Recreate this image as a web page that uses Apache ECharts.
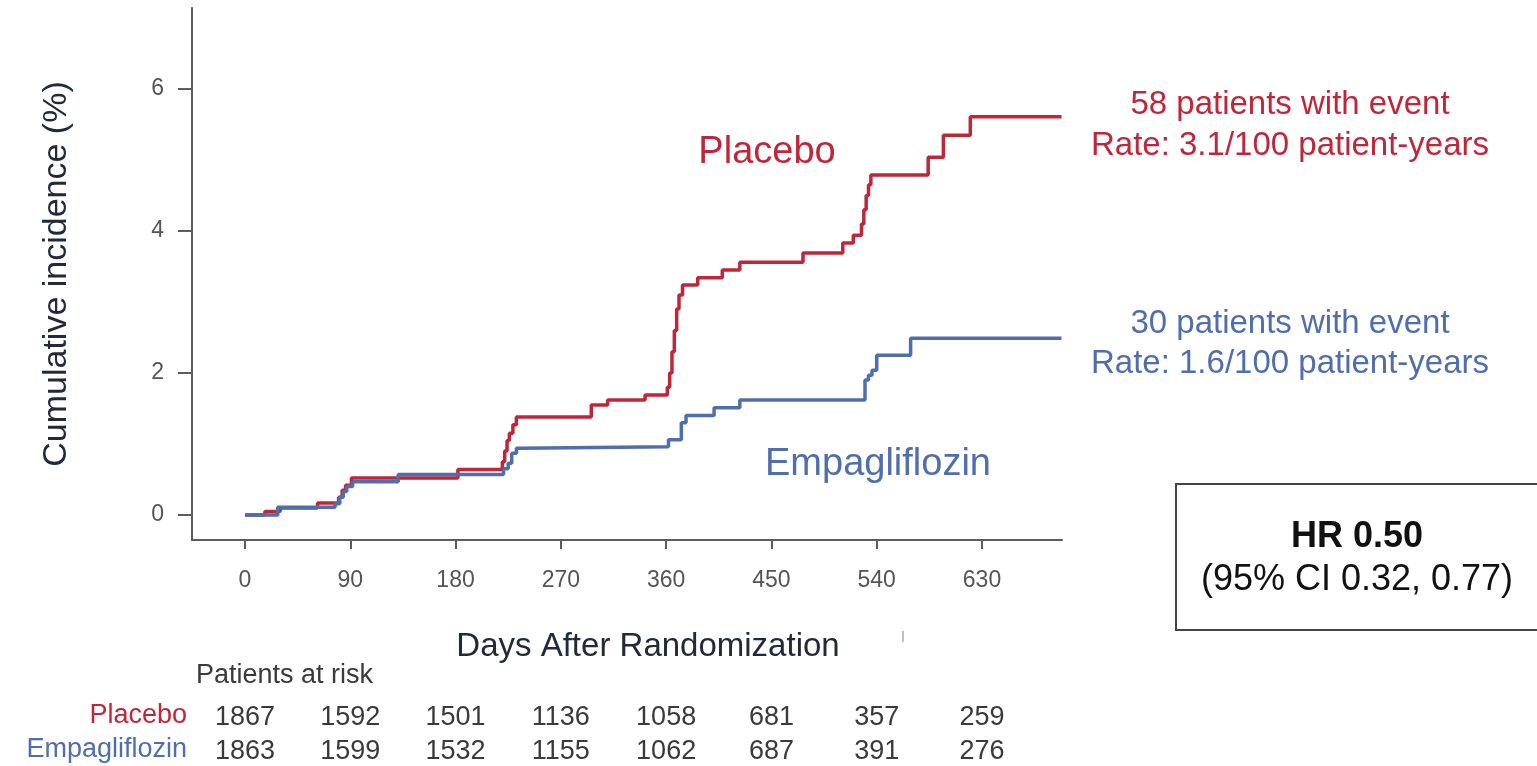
<!DOCTYPE html>
<html><head><meta charset="utf-8">
<script src="https://cdn.jsdelivr.net/npm/echarts@6/dist/echarts.min.js"></script>
<style>html,body{margin:0;padding:0;background:#fff}#c{width:1537px;height:766px}</style>
</head><body><div id="c"></div>
<script>
// ---- data ----
const placeboDays = [0, 17, 30, 62, 80, 83, 86, 91, 182, 220, 222, 224, 226, 229, 232, 296, 310, 342, 361, 363, 365, 367, 369, 371, 374, 387, 408, 423, 477, 511, 520, 527, 529, 531, 533, 535, 584, 597, 620, 698];
const placeboPct  = [0, 0.05, 0.10, 0.17, 0.25, 0.35, 0.42, 0.52, 0.64, 0.75, 0.90, 1.05, 1.15, 1.27, 1.38, 1.55, 1.62, 1.69, 1.80, 2.00, 2.30, 2.60, 2.90, 3.10, 3.24, 3.34, 3.45, 3.56, 3.69, 3.83, 3.94, 4.10, 4.30, 4.50, 4.65, 4.79, 5.04, 5.35, 5.61, 5.61];
const empaDays = [0, 28, 77, 81, 84, 87, 92, 131, 221, 225, 228, 232, 235, 362, 373, 377, 401, 423, 530, 533, 536, 540, 569, 698];
const empaPct  = [0, 0.11, 0.16, 0.25, 0.33, 0.40, 0.47, 0.57, 0.65, 0.73, 0.87, 0.94, 0.96, 1.06, 1.30, 1.40, 1.51, 1.62, 1.90, 1.97, 2.04, 2.25, 2.49, 2.49];
const xTicks = [0, 90, 180, 270, 360, 450, 540, 630];
const yTicks = [0, 2, 4, 6];
const riskPlacebo = [1867, 1592, 1501, 1136, 1058, 681, 357, 259];
const riskEmpa    = [1863, 1599, 1532, 1155, 1062, 687, 391, 276];
const groupNames = ['Placebo', 'Empagliflozin'];
const eventText = ['58 patients with event', '30 patients with event'];
const rateText  = ['Rate: 3.1/100 patient-years', 'Rate: 1.6/100 patient-years'];
const hrText = ['HR 0.50', '(95% CI 0.32, 0.77)'];

const RED = '#c0263a', BLUE = '#4f6eae', AX = '#5c5c5c';
const FONT = '"Liberation Sans", Arial, sans-serif';
const NARROW = '"Liberation Sans Narrow", "Arial Narrow", "Liberation Sans", sans-serif';

const zip = (a, b) => a.map((d, i) => [d, b[i]]);
const riskAxis = (arr, offset) => ({
  type: 'value', min: -45.3, max: 698.4, position: 'bottom', offset: offset, gridIndex: 0,
  axisLine: {show: false}, axisTick: {show: false}, splitLine: {show: false},
  axisLabel: {customValues: xTicks, margin: 0, fontSize: 27, fontFamily: NARROW, color: '#3a3a3a',
    formatter: v => String(arr[xTicks.indexOf(v)])}
});

const chart = echarts.init(document.getElementById('c'), null, {renderer: 'canvas'});
chart.setOption({
  animation: false,
  backgroundColor: '#fff',
  grid: {left: 192, right: 475, top: 8, bottom: 226, containLabel: false},
  xAxis: [{
    type: 'value', min: -45.3, max: 698.4,
    name: 'Days After Randomization', nameLocation: 'middle', nameGap: 90,
    nameTextStyle: {fontSize: 33, fontFamily: FONT, color: '#222a3a', padding: [0, 0, 0, 42]},
    axisLine: {show: true, onZero: false, lineStyle: {color: AX, width: 2}},
    axisTick: {show: true, customValues: xTicks, length: 9, lineStyle: {color: AX, width: 2}},
    axisLabel: {customValues: xTicks, margin: 29, fontSize: 23, fontFamily: FONT, color: '#555'},
    splitLine: {show: false}
  }, riskAxis(riskPlacebo, 164), riskAxis(riskEmpa, 198)],
  yAxis: {
    type: 'value', min: -0.352, max: 7.141,
    name: 'Cumulative incidence (%)', nameLocation: 'middle', nameGap: 118, nameRotate: 90,
    nameTextStyle: {fontSize: 34, fontFamily: FONT, color: '#222a3a'},
    axisLine: {show: true, onZero: false, lineStyle: {color: AX, width: 2}},
    axisTick: {show: true, customValues: yTicks, length: 14, lineStyle: {color: AX, width: 2}},
    axisLabel: {customValues: yTicks, margin: 28, fontSize: 23, fontFamily: FONT, color: '#555'},
    splitLine: {show: false}
  },
  series: [
    {name: groupNames[0], type: 'line', step: 'end', showSymbol: false, data: zip(placeboDays, placeboPct),
     lineStyle: {color: RED, width: 3.5}, itemStyle: {color: RED}, z: 2},
    {name: groupNames[1], type: 'line', step: 'end', showSymbol: false, data: zip(empaDays, empaPct),
     lineStyle: {color: BLUE, width: 3.5}, itemStyle: {color: BLUE}, z: 3}
  ],
  graphic: [
    {type: 'text', x: 767, y: 153, style: {text: groupNames[0], fill: RED, font: '38px ' + FONT, align: 'center', verticalAlign: 'middle'}},
    {type: 'text', x: 878, y: 465, style: {text: groupNames[1], fill: BLUE, font: '38px ' + FONT, align: 'center', verticalAlign: 'middle'}},
    {type: 'text', x: 1290, y: 105, style: {text: eventText[0], fill: RED, font: '33px ' + FONT, align: 'center', verticalAlign: 'middle'}},
    {type: 'text', x: 1290, y: 146, style: {text: rateText[0], fill: RED, font: '33px ' + FONT, align: 'center', verticalAlign: 'middle'}},
    {type: 'text', x: 1290, y: 324, style: {text: eventText[1], fill: BLUE, font: '33px ' + FONT, align: 'center', verticalAlign: 'middle'}},
    {type: 'text', x: 1290, y: 364, style: {text: rateText[1], fill: BLUE, font: '33px ' + FONT, align: 'center', verticalAlign: 'middle'}},
    {type: 'rect', shape: {x: 1176, y: 484, width: 420, height: 146}, style: {fill: '#fff', stroke: '#444', lineWidth: 2}},
    {type: 'text', x: 1357, y: 537, style: {text: hrText[0], fill: '#111', font: 'bold 36px ' + FONT, align: 'center', verticalAlign: 'middle'}},
    {type: 'text', x: 1357, y: 580, style: {text: hrText[1], fill: '#111', font: '36px ' + FONT, align: 'center', verticalAlign: 'middle'}},
    {type: 'line', shape: {x1: 903, y1: 631, x2: 903, y2: 642}, style: {stroke: '#aaa', lineWidth: 1.5}},
    {type: 'text', x: 196, y: 676, style: {text: 'Patients at risk', fill: '#3a3a3a', font: '27px ' + NARROW, align: 'left', verticalAlign: 'middle'}},
    {type: 'text', x: 187, y: 716, style: {text: groupNames[0], fill: RED, font: '27px ' + NARROW, align: 'right', verticalAlign: 'middle'}},
    {type: 'text', x: 187, y: 750, style: {text: groupNames[1], fill: BLUE, font: '27px ' + NARROW, align: 'right', verticalAlign: 'middle'}}
  ]
});
</script></body></html>
